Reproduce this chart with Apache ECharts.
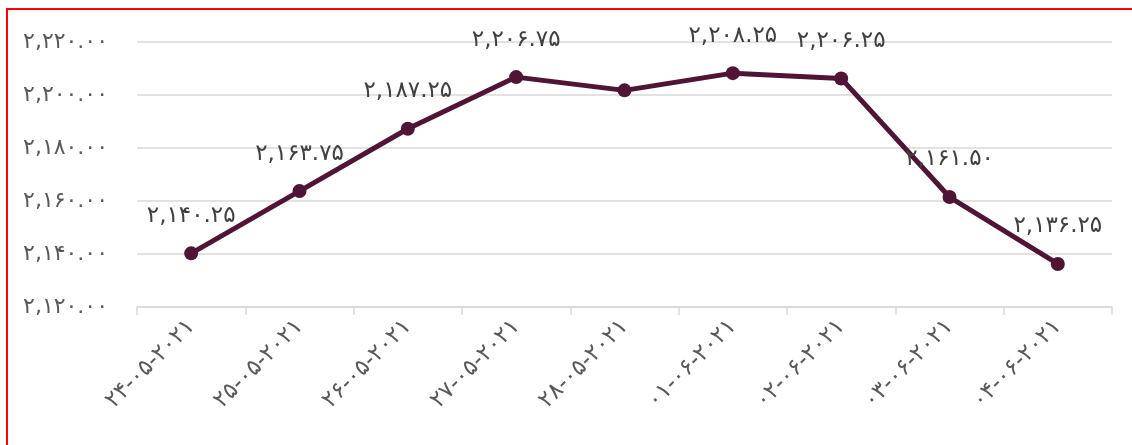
<!DOCTYPE html>
<html>
<head>
<meta charset="utf-8">
<script src="https://cdn.jsdelivr.net/npm/echarts@6/dist/echarts.min.js"></script>
<style>
  html, body { margin: 0; padding: 0; background: #fff; overflow: hidden; }
  #frame { position: absolute; left: 6px; top: 8px; width: 1200px; height: 500px; border-top: 2px solid #ff0000; border-left: 2px solid #ff0000; }
  #chart { position: absolute; left: 0; top: 0; width: 1132px; height: 445px; }
</style>
</head>
<body>
<div id="frame"></div>
<div id="chart"></div>
<script>
const dates = ['24-05-2021', '25-05-2021', '26-05-2021', '27-05-2021', '28-05-2021',
  '01-06-2021', '02-06-2021', '03-06-2021', '04-06-2021']
const prices = [2140.25, 2163.75, 2187.25, 2206.75, 2201.75, 2208.25, 2206.25, 2161.50, 2136.25]
// نقطه‌ای که برچسب ندارد
const hiddenLabels = [4]

const faDigits = '۰۱۲۳۴۵۶۷۸۹'
const toFa = s => String(s).replace(/[0-9]/g, d => faDigits[d])
const fmt = v => toFa(v.toLocaleString('en-US', { minimumFractionDigits: 2, maximumFractionDigits: 2 }))

const font = 'DejaVu Sans'
const chart = echarts.init(document.getElementById('chart'))
chart.setOption({
  backgroundColor: 'transparent',
  animation: false,
  grid: { left: 137, right: 20, top: 42, bottom: 138 },
  xAxis: {
    type: 'category',
    data: dates,
    boundaryGap: true,
    axisLine: { lineStyle: { color: '#d9d9d9', width: 1.5 } },
    axisTick: { show: true, length: 8, lineStyle: { color: '#d9d9d9', width: 1.5 } },
    axisLabel: {
      rotate: 45,
      interval: 0,
      margin: 16,
      color: '#595959',
      fontSize: 23,
      fontFamily: font,
      formatter: v => toFa(v)
    }
  },
  yAxis: {
    type: 'value',
    min: 2120,
    max: 2220,
    interval: 20,
    axisLine: { show: false },
    axisTick: { show: false },
    splitLine: { lineStyle: { color: '#d9d9d9', width: 1.5 } },
    axisLabel: {
      margin: 29,
      color: '#595959',
      fontSize: 22,
      fontFamily: font,
      formatter: v => fmt(v)
    }
  },
  series: [
    {
      type: 'line',
      data: prices.map((v, i) => hiddenLabels.includes(i) ? { value: v, label: { show: false } } : v),
      symbol: 'circle',
      symbolSize: 14,
      lineStyle: { color: '#501535', width: 5 },
      itemStyle: { color: '#501535' },
      label: {
        show: true,
        position: 'top',
        distance: 19,
        color: '#404040',
        fontSize: 23,
        fontFamily: font,
        formatter: p => fmt(p.value)
      }
    }
  ]
})
</script>
</body>
</html>
